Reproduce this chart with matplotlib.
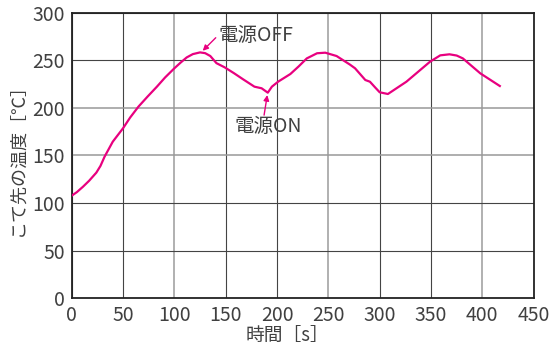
import matplotlib
import matplotlib.pyplot as plt

matplotlib.use('Agg')

plt.rcParams['font.family'] = ['Noto Sans CJK JP', 'DejaVu Sans']

# Tip temperature readings (time in s, temperature in degC)
time_s = [0, 5, 11, 17, 24, 28, 32, 40, 50, 57, 65, 74, 83, 91, 100,
          106, 112, 118, 125, 130, 135, 141, 149, 158, 167, 178, 185,
          191, 195, 201, 213, 221, 229, 239, 247, 258, 271, 276, 286,
          290.5, 296, 300, 308, 326, 349, 359, 368, 375, 381, 398, 417]
temp_c = [107.8, 111.5, 117.2, 123.5, 132, 139, 148.7, 164.5, 178.6,
          190, 201.3, 212, 222.3, 232, 241.6, 247.5, 253, 256.5, 258.3,
          257.5, 254.5, 247, 242.6, 236.5, 230, 222.3, 220.6, 216, 222.3,
          227.5, 235.6, 243.5, 252, 257.4, 258, 254.5, 245.5, 241.6, 229.3,
          227.5, 221, 216.4, 214.6, 227.5, 248.5, 255.2, 256.3, 255, 252,
          236.3, 223]

x_ticks = [0, 50, 100, 150, 200, 250, 300, 350, 400, 450]
y_ticks = [0, 50, 100, 150, 200, 250, 300]

text_color = '#404040'
line_color = '#E8007F'

fig = plt.figure(figsize=(5.49, 3.49), dpi=100)
ax = fig.add_axes([0.1306, 0.1453, 0.8415, 0.8183])

ax.plot(time_s, temp_c, color=line_color, linewidth=1.6, zorder=3,
        solid_joinstyle='round')

ax.set_xlim(0, 450)
ax.set_ylim(0, 300)
ax.set_xticks(x_ticks)
ax.set_yticks(y_ticks)
ax.grid(True, color='#444444', linewidth=0.8)
# some grid lines print lighter in the original
for i in (2, 5, 8):
    ax.get_xgridlines()[i].set_color('#aaaaaa')
    ax.get_xgridlines()[i].set_linewidth(1.3)
for i in (3, 4):
    ax.get_ygridlines()[i].set_color('#999999')
    ax.get_ygridlines()[i].set_linewidth(1.1)
ax.tick_params(length=0, labelsize=14, labelcolor=text_color, pad=5)
for s in ax.spines.values():
    s.set_linewidth(1.3)
    s.set_color('#222222')

ax.set_xlabel('時間［s］', fontsize=13.5, color=text_color)
ax.xaxis.set_label_coords(0.466, -0.098)
ax.set_ylabel('こて先の温度［℃］', fontsize=13, color=text_color, labelpad=4)

# Annotations
ax.text(143, 276, '電源OFF', fontsize=14, color=text_color,
        va='center', ha='left')
ax.annotate('', xy=(127.6, 260), xytext=(140.3, 273.7),
            arrowprops=dict(arrowstyle='-|>', color=line_color, lw=1,
                            mutation_scale=8, shrinkA=0, shrinkB=0))
ax.text(191.2, 180, '電源ON', fontsize=14, color=text_color,
        va='center', ha='center')
ax.annotate('', xy=(190.5, 213.5), xytext=(187.4, 192.4),
            arrowprops=dict(arrowstyle='-|>', color=line_color, lw=1,
                            mutation_scale=8, shrinkA=0, shrinkB=0))

fig.savefig('out.png', dpi=100)
